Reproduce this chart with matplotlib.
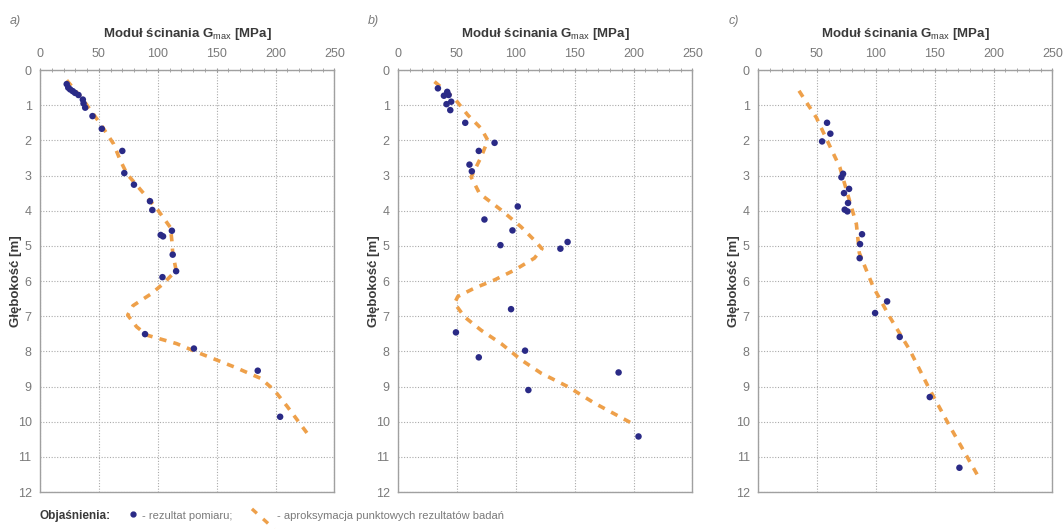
import numpy as np
import matplotlib
matplotlib.use("Agg")
import matplotlib.pyplot as plt
from matplotlib.lines import Line2D
from matplotlib.ticker import MultipleLocator

plt.rcParams['font.family'] = ['Liberation Sans', 'DejaVu Sans']
plt.rcParams['mathtext.fontset'] = 'custom'
plt.rcParams['mathtext.rm'] = 'Liberation Sans'

# --- panel a) ---
a_pts_g = [22.7, 24.0, 25.6, 27.8, 29.8, 32.7, 36.4, 37.0, 38.4, 44.6, 52.5, 69.9, 71.6,
           79.8, 93.4, 95.4, 112.0, 102.5, 104.5, 112.7, 115.6, 104.0, 89.2, 130.7, 184.9, 203.9]
a_pts_z = [0.40, 0.50, 0.55, 0.60, 0.65, 0.71, 0.84, 0.95, 1.07, 1.31, 1.67, 2.30, 2.93,
           3.26, 3.73, 3.98, 4.57, 4.69, 4.73, 5.25, 5.72, 5.89, 7.51, 7.92, 8.55, 9.86]
a_fit_g = [22.7, 36.9, 51.1, 62.5, 68.2, 73.8, 90.9, 99.4, 110.8, 112.0, 112.7, 115.6,
           104.5, 94.6, 79.0, 74.5, 82.0, 90.9, 116.0, 136.0, 164.7, 187.5, 198.8, 210.0, 230.0]
a_fit_z = [0.29, 0.86, 1.52, 2.10, 2.57, 2.95, 3.62, 3.95, 4.48, 4.86, 5.20, 5.70,
           6.08, 6.36, 6.70, 6.97, 7.30, 7.54, 7.78, 8.06, 8.44, 8.77, 9.10, 9.57, 10.47]

# --- panel b) ---
b_pts_g = [33.9, 39.0, 41.8, 43.0, 41.2, 45.2, 44.4, 57.1, 82.0, 68.6, 60.7, 62.7, 101.7,
           73.4, 97.2, 87.0, 144.0, 137.9, 49.2, 96.0, 68.6, 107.9, 110.7, 187.3, 204.2]
b_pts_z = [0.52, 0.73, 0.62, 0.71, 0.97, 0.90, 1.14, 1.50, 2.07, 2.30, 2.69, 2.88, 3.88,
           4.25, 4.56, 4.98, 4.89, 5.08, 7.46, 6.80, 8.17, 7.98, 9.10, 8.60, 10.42]
b_fit_g = [31.0, 48.0, 59.3, 70.6, 76.3, 70.6, 65.0, 62.1, 69.2, 87.6, 104.5, 115.8, 122.3,
           115.8, 98.9, 81.9, 65.0, 50.8, 48.0, 56.5, 70.6, 87.6, 104.5, 121.5, 144.0, 166.7, 197.7]
b_fit_z = [0.33, 0.81, 1.28, 1.66, 2.00, 2.47, 2.85, 3.04, 3.51, 3.98, 4.46, 4.84, 5.08,
           5.35, 5.69, 5.97, 6.20, 6.44, 6.63, 7.02, 7.40, 7.78, 8.24, 8.62, 9.00, 9.47, 10.03]

# --- panel c) ---
c_pts_g = [58.6, 61.4, 54.4, 72.2, 70.8, 77.3, 73.0, 76.4, 73.6, 75.9, 88.3, 86.6, 86.3,
           109.6, 99.4, 120.3, 145.8, 171.0]
c_pts_z = [1.50, 1.81, 2.03, 2.95, 3.05, 3.38, 3.50, 3.78, 3.97, 4.02, 4.67, 4.95, 5.35,
           6.58, 6.91, 7.59, 9.30, 11.31]
c_fit_g = [34.8, 49.5, 69.4, 83.5, 85.0, 86.0, 97.7, 111.8, 128.8, 145.8, 162.8, 187.7]
c_fit_z = [0.59, 1.35, 2.76, 4.38, 4.86, 5.20, 6.16, 7.02, 7.96, 9.09, 10.13, 11.60]

panels = [
    ("a)", a_pts_g, a_pts_z, a_fit_g, a_fit_z),
    ("b)", b_pts_g, b_pts_z, b_fit_g, b_fit_z),
    ("c)", c_pts_g, c_pts_z, c_fit_g, c_fit_z),
]

DOT = '#2a2a86'
FIT = '#eea04a'
GREY = '#7a7a7a'
TXT = '#3a3a3a'

fig = plt.figure(figsize=(10.63, 5.29), dpi=100)
lefts = [0.0376, 0.3744, 0.7131]

for left, (lab, pg, pz, fg, fz) in zip(lefts, panels):
    ax = fig.add_axes([left, 0.0699, 0.2770, 0.7977])
    ax.plot(fg, fz, color=FIT, lw=2.6, ls=(0, (2.0, 2.0)), zorder=2)
    ax.scatter(pg, pz, s=22, color=DOT, zorder=3, edgecolors='none')
    ax.set_xlim(0, 250)
    ax.set_ylim(12, 0)
    ax.xaxis.tick_top()
    ax.xaxis.set_major_locator(MultipleLocator(50))
    ax.xaxis.set_minor_locator(MultipleLocator(10))
    ax.yaxis.set_major_locator(MultipleLocator(1))
    ax.tick_params(axis='x', which='both', direction='inout', length=3, color='#999999',
                   labelsize=9, labelcolor=GREY, pad=6)
    ax.tick_params(axis='y', length=0, labelsize=9, labelcolor=GREY, pad=6)
    ax.grid(True, which='major', color='#aaaaaa', ls=(0, (1, 1.5)), lw=0.8)
    for s in ax.spines.values():
        s.set_color('#a0a0a0')
        s.set_linewidth(1.0)
    ax.set_title('Moduł ścinania G$_{\\rm max}$ [MPa]', fontsize=9.5, fontweight='bold',
                 color=TXT, pad=24)
    ax.set_ylabel('Głębokość [m]', fontsize=9.5, fontweight='bold', color=TXT)
    ax.yaxis.set_label_coords(-0.062, 0.5)
    fig.text(left - 0.028, 0.955, lab, fontsize=9, style='italic', color=GREY)

# legend row
fig.text(0.0376, 0.018, 'Objaśnienia:', fontsize=8.5, fontweight='bold', color=TXT)
fig.add_artist(Line2D([0.125], [0.028], marker='o', ms=3.5, color=DOT, ls='none',
                      transform=fig.transFigure))
fig.text(0.134, 0.018, '- rezultat pomiaru;', fontsize=8, color=GREY)
fig.add_artist(Line2D([0.237, 0.258], [0.038, 0.0], color=FIT, lw=2.4, ls=(0, (2, 2.5)),
                      transform=fig.transFigure))
fig.text(0.261, 0.018, '- aproksymacja punktowych rezultatów badań', fontsize=8, color=GREY)

fig.savefig('out.png', dpi=100)
